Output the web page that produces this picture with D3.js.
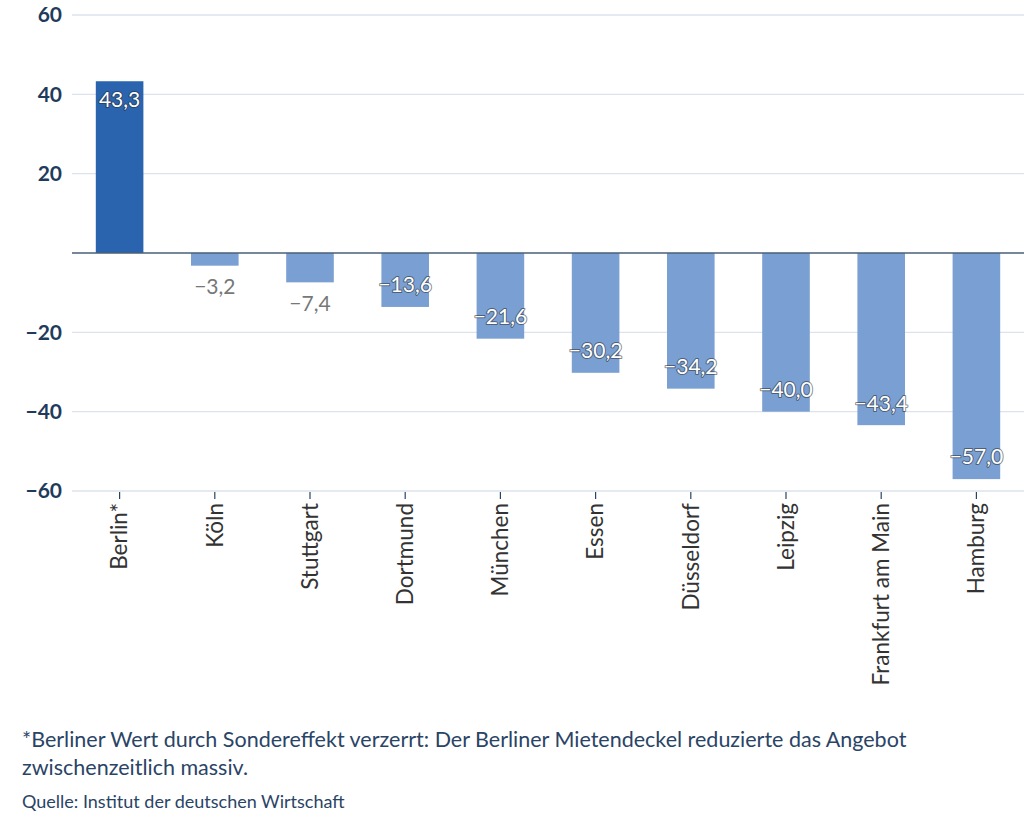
<!DOCTYPE html>
<html>
<head>
<meta charset="utf-8">
<script src="https://cdn.jsdelivr.net/npm/d3@7"></script>
<style>
  body { margin: 0; background: #fff; font-family: "Source Sans Pro", Lato, "Open Sans", sans-serif; }
  .note { position: absolute; left: 22px; color: #2a4466; }
</style>
</head>
<body>
<div id="chart"></div>
<script>
var cities = ["Berlin*", "Köln", "Stuttgart", "Dortmund", "München", "Essen", "Düsseldorf", "Leipzig", "Frankfurt am Main", "Hamburg"];
var values = [43.3, -3.2, -7.4, -13.6, -21.6, -30.2, -34.2, -40.0, -43.4, -57.0];
var yTicks = [-60, -40, -20, 20, 40, 60];

var W = 1024, H = 822,
    margin = {top: 15, right: 0, bottom: 331, left: 72},
    width = W - margin.left - margin.right,
    height = H - margin.top - margin.bottom;

var fmt = function(v) { return d3.format(".1f")(v).replace(".", ",").replace("-", "−"); };

var svg = d3.select("#chart").append("svg")
    .attr("width", W).attr("height", H)
    .style("position", "absolute").style("left", 0).style("top", 0);

var g = svg.append("g").attr("transform", "translate(" + margin.left + "," + margin.top + ")");

var x = d3.scaleBand().domain(cities).range([0, width]).paddingInner(0.5).paddingOuter(0.25);
var y = d3.scaleLinear().domain([-60, 60]).range([height, 0]);

// gridlines
g.selectAll(".grid").data(yTicks).enter().append("line")
    .attr("x1", 0).attr("x2", width)
    .attr("y1", function(d) { return y(d); }).attr("y2", function(d) { return y(d); })
    .attr("stroke", "#dde3ec").attr("stroke-width", 1.3);

// y labels
g.selectAll(".ylab").data(yTicks).enter().append("text")
    .attr("x", -10).attr("y", function(d) { return y(d); })
    .attr("dy", "0.35em").attr("text-anchor", "end")
    .style("font-size", "21px").style("font-weight", "bold").style("fill", "#1f3b5c")
    .text(function(d) { return String(d).replace("-", "−"); });

// x ticks
g.selectAll(".xtick").data(cities).enter().append("line")
    .attr("x1", function(d) { return x(d) + x.bandwidth() / 2; })
    .attr("x2", function(d) { return x(d) + x.bandwidth() / 2; })
    .attr("y1", height + 1).attr("y2", height + 8)
    .attr("stroke", "#2a4466").attr("stroke-width", 1.2);

g.selectAll(".xlab").data(cities).enter().append("text")
    .attr("transform", function(d) { return "translate(" + (x(d) + x.bandwidth() / 2) + "," + (height + 12) + ") rotate(-90)"; })
    .attr("dy", "0.35em").attr("text-anchor", "end")
    .style("font-size", "22.5px").style("fill", "#333")
    .text(function(d) { return d; });

// bars
var data = cities.map(function(c, i) { return {city: c, value: values[i]}; });
g.selectAll(".bar").data(data).enter().append("rect")
    .attr("x", function(d) { return x(d.city); })
    .attr("width", x.bandwidth())
    .attr("y", function(d) { return y(Math.max(0, d.value)); })
    .attr("height", function(d) { return Math.abs(y(d.value) - y(0)); })
    .attr("fill", function(d, i) { return i === 0 ? "#2b64ae" : "#7a9fd2"; });

// zero line
g.append("line")
    .attr("x1", 0).attr("x2", width).attr("y1", y(0)).attr("y2", y(0))
    .attr("stroke", "#4a5f78").attr("stroke-width", 1.5);

// value labels
g.selectAll(".val").data(data).enter().append("text")
    .attr("x", function(d) { return x(d.city) + x.bandwidth() / 2; })
    .attr("y", function(d) {
        if (d.value > 0) return y(d.value) + 18;
        if (d.value > -10) return y(d.value) + 21;
        return y(d.value) - 22;
    })
    .attr("dy", "0.35em").attr("text-anchor", "middle")
    .style("font-size", "21px")
    .style("fill", function(d) { return (d.value < 0 && d.value > -10) ? "#777" : "#fff"; })
    .style("stroke", function(d) { return (d.value < 0 && d.value > -10) ? "none" : "rgba(40,40,40,0.55)"; })
    .style("stroke-width", "2px").style("paint-order", "stroke").style("stroke-linejoin", "round")
    .text(function(d) { return fmt(d.value); });
</script>
<div class="note" style="top:725px; font-size:21.5px; line-height:28px; width:1000px;">*Berliner Wert durch Sondereffekt verzerrt: Der Berliner Mietendeckel reduzierte das Angebot<br>zwischenzeitlich massiv.</div>
<div class="note" style="top:790px; font-size:18px;">Quelle: Institut der deutschen Wirtschaft</div>
</body>
</html>
